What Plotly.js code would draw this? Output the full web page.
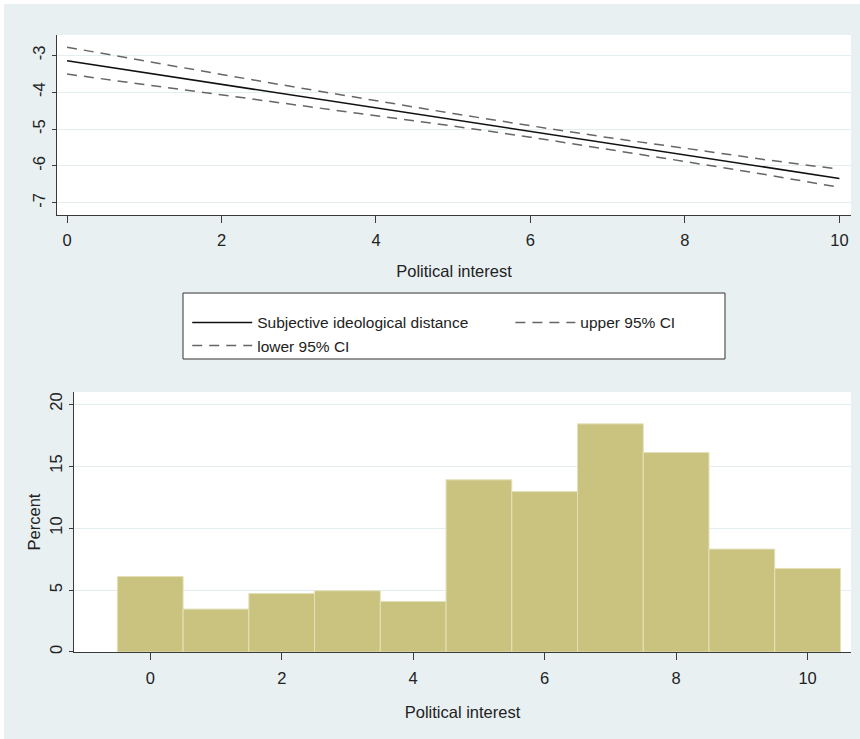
<!DOCTYPE html>
<html>
<head>
<meta charset="utf-8">
<script src="https://cdn.plot.ly/plotly-3.0.1.min.js"></script>
<style>
html,body{margin:0;padding:0;background:#ffffff;}
#chart{position:absolute;left:4px;top:4px;width:856px;height:735px;}
</style>
</head>
<body>
<div id="chart"></div>
<script>
// ---- Data ----
var interestX = [0, 1, 2, 3, 4, 5, 6, 7, 8, 9, 10];
var predicted = [-3.15, -3.47, -3.79, -4.11, -4.43, -4.75, -5.06, -5.38, -5.70, -6.02, -6.34];
var upperCI   = [-2.78, -3.16, -3.52, -3.88, -4.24, -4.58, -4.91, -5.23, -5.52, -5.82, -6.09];
var lowerCI   = [-3.51, -3.79, -4.06, -4.34, -4.62, -4.92, -5.22, -5.54, -5.88, -6.22, -6.58];

var histCategories = [0, 1, 2, 3, 4, 5, 6, 7, 8, 9, 10];
var histPercent = [6.09, 3.46, 4.72, 4.94, 4.08, 13.89, 12.94, 18.40, 16.09, 8.30, 6.74];

var topYTickVals = [-7, -6, -5, -4, -3];
var topYTickText = ['-7', '-6', '-5', '-4', '-3'];
var xTickVals = [0, 2, 4, 6, 8, 10];
var xTickText = ['0', '2', '4', '6', '8', '10'];
var botYTickVals = [0, 5, 10, 15, 20];
var botYTickText = ['0', '5', '10', '15', '20'];

var seriesNames = ['Subjective ideological distance', 'upper 95% CI', 'lower 95% CI'];
var xTitle = 'Political interest';
var yTitleBottom = 'Percent';

// ---- Figure ----
var FONT = 'Liberation Sans, Arial, sans-serif';
var bg = '#e8f0f2';
var grid = '#e4edf0';
var axisCol = '#3a3a3a';

var traces = [
  {x: interestX, y: predicted, type: 'scatter', mode: 'lines', name: seriesNames[0],
   line: {color: '#111111', width: 1.6}, xaxis: 'x', yaxis: 'y', legend: 'legend'},
  {x: interestX, y: upperCI, type: 'scatter', mode: 'lines', name: seriesNames[1],
   line: {color: '#666666', width: 1.5, dash: '10px,7px'}, xaxis: 'x', yaxis: 'y', legend: 'legend2'},
  {x: interestX, y: lowerCI, type: 'scatter', mode: 'lines', name: seriesNames[2],
   line: {color: '#666666', width: 1.5, dash: '10px,7px'}, xaxis: 'x', yaxis: 'y', legend: 'legend'},
  {x: histCategories, y: histPercent, type: 'bar', width: 1, showlegend: false,
   marker: {color: '#c9c37f', line: {color: '#e4e1b9', width: 1}}, xaxis: 'x2', yaxis: 'y2'}
];

var tickFont = {family: FONT, size: 16.5, color: '#222222'};
var titleFont = {family: FONT, size: 16.5, color: '#222222'};
var legendFont = {family: FONT, size: 15.5, color: '#222222'};

var layout = {
  width: 856, height: 735,
  paper_bgcolor: bg, plot_bgcolor: '#ffffff',
  margin: {l: 53, r: 9, t: 31, b: 87},
  font: {family: FONT, color: '#222222'},
  bargap: 0,
  xaxis: {
    domain: [0, 1], anchor: 'y', range: [-0.13, 10.15],
    tickmode: 'array', tickvals: xTickVals, ticktext: xTickText,
    ticks: 'outside', ticklen: 7, tickcolor: axisCol, tickwidth: 1, ticklabelstandoff: 3,
    showline: true, linecolor: axisCol, linewidth: 1,
    showgrid: false, zeroline: false, tickfont: tickFont,
    title: {text: xTitle, font: titleFont, standoff: 17}
  },
  yaxis: {
    domain: [0.7083, 1], anchor: 'x', range: [-7.33, -2.45],
    tickmode: 'array', tickvals: topYTickVals, ticktext: topYTickText,
    ticks: 'outside', ticklen: 4, tickcolor: axisCol, tickwidth: 1, tickangle: -90,
    showline: true, linecolor: axisCol, linewidth: 1,
    showgrid: true, gridcolor: grid, gridwidth: 1, zeroline: false, tickfont: tickFont
  },
  xaxis2: {
    domain: [0.0214, 1], anchor: 'y2', range: [-1.16, 10.66],
    tickmode: 'array', tickvals: xTickVals, ticktext: xTickText,
    ticks: 'outside', ticklen: 7, tickcolor: axisCol, tickwidth: 1, ticklabelstandoff: 4,
    showline: true, linecolor: axisCol, linewidth: 1,
    showgrid: false, zeroline: false, tickfont: tickFont,
    title: {text: xTitle, font: titleFont, standoff: 20}
  },
  yaxis2: {
    domain: [0, 0.4214], anchor: 'x2', range: [0, 20.97],
    tickmode: 'array', tickvals: botYTickVals, ticktext: botYTickText,
    ticks: 'outside', ticklen: 4, tickcolor: axisCol, tickwidth: 1, tickangle: -90,
    showline: true, linecolor: axisCol, linewidth: 1,
    showgrid: true, gridcolor: grid, gridwidth: 1, zeroline: false, tickfont: tickFont,
    title: {text: yTitleBottom, font: titleFont, standoff: 2}
  },
  legend: {
    x: 0.164, y: 0.561, xanchor: 'left', yanchor: 'top',
    orientation: 'v', bgcolor: 'rgba(0,0,0,0)', borderwidth: 0,
    font: legendFont, itemwidth: 60, tracegroupgap: 0
  },
  legend2: {
    x: 0.571, y: 0.561, xanchor: 'left', yanchor: 'top',
    orientation: 'v', bgcolor: 'rgba(0,0,0,0)', borderwidth: 0,
    font: legendFont, itemwidth: 60
  },
  shapes: [
    {type: 'rect', xref: 'paper', yref: 'paper', x0: 0.1587, x1: 0.8413, y0: 0.4749, y1: 0.5818,
     fillcolor: '#ffffff', line: {color: '#333333', width: 1}, layer: 'below'}
  ]
};

Plotly.newPlot('chart', traces, layout, {displayModeBar: false, staticPlot: true});
</script>
</body>
</html>
